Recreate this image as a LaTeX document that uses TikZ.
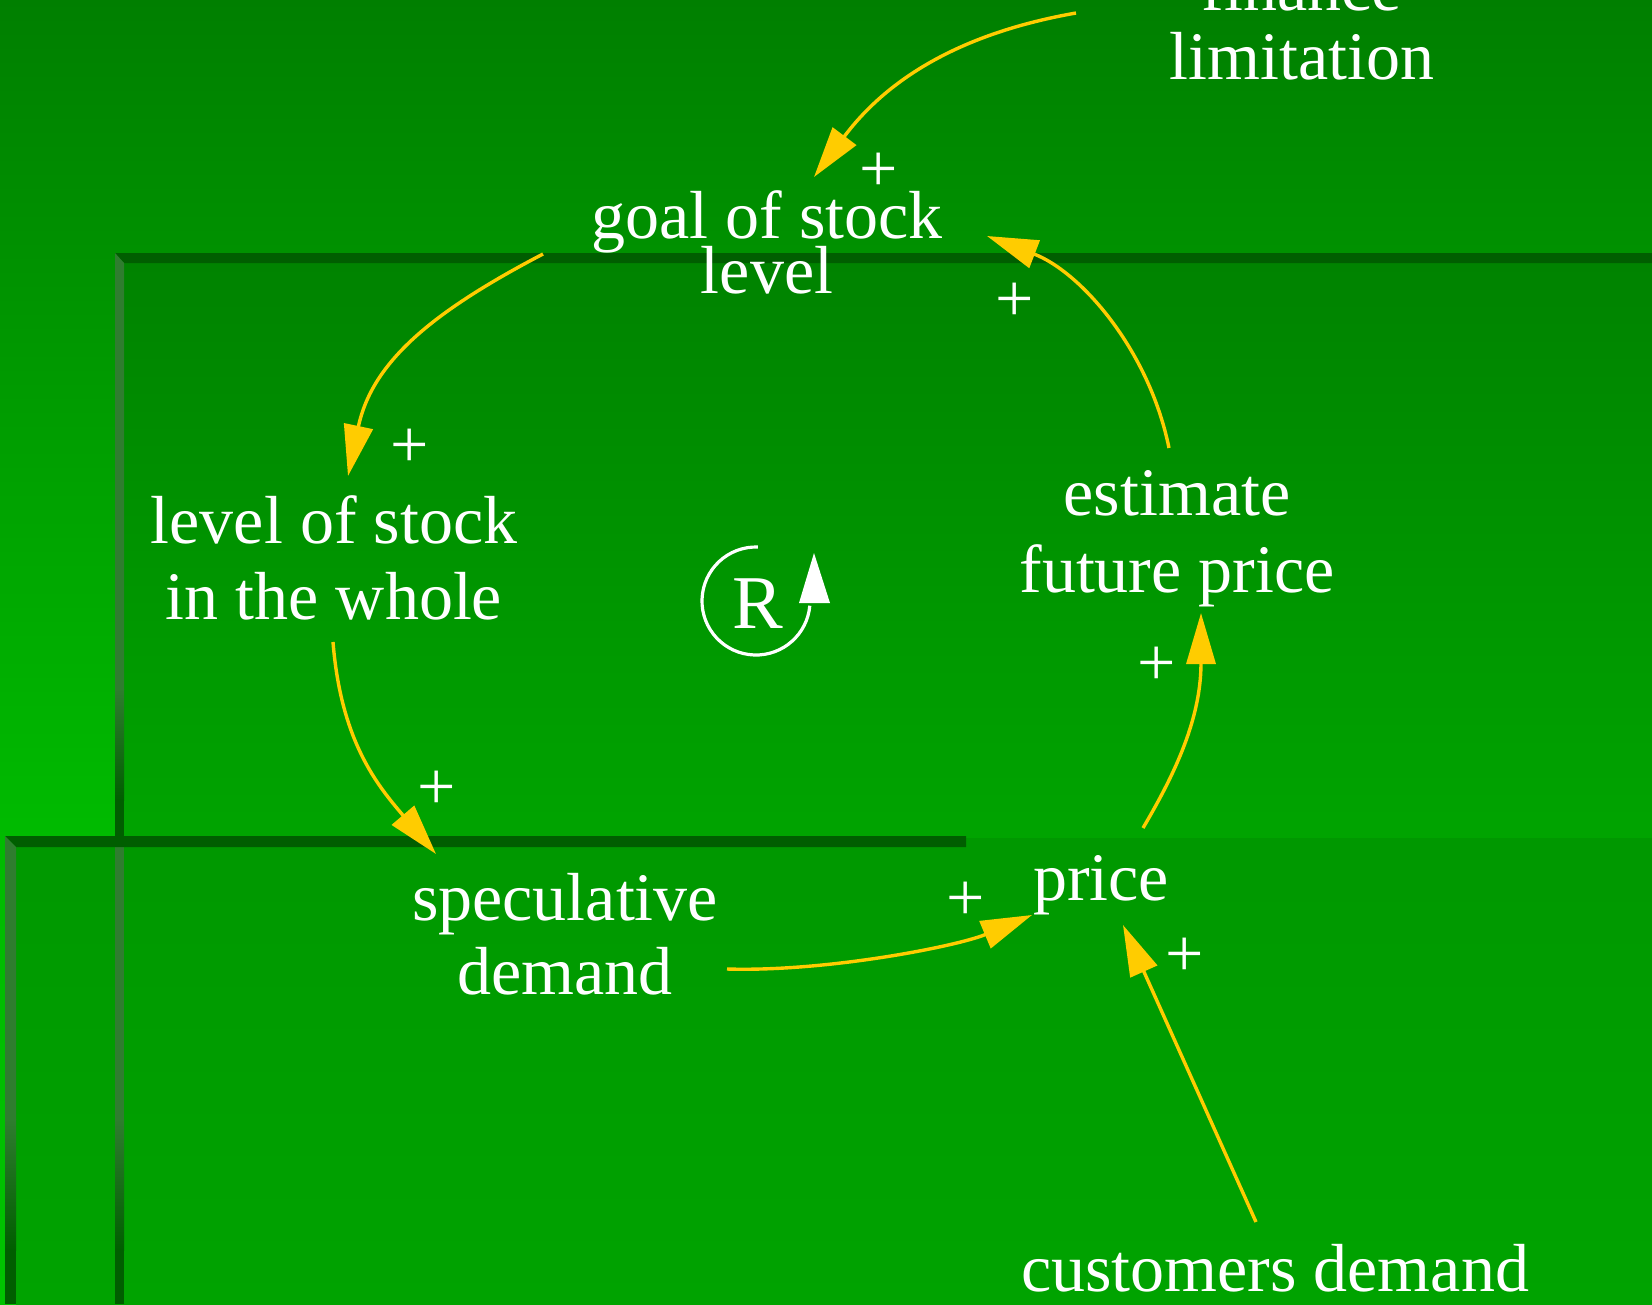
\documentclass[tikz,border=0pt]{standalone}
\usepackage{fontspec}
\setmainfont{Liberation Serif}
\usetikzlibrary{arrows.meta,calc}
\definecolor{bgtop}{HTML}{007F00}
\definecolor{bgmid}{HTML}{00BB00}
\definecolor{bgbot}{HTML}{00C300}
\definecolor{pnltop}{HTML}{008300}
\definecolor{pnlmid}{HTML}{00A400}
\definecolor{pnllowtop}{HTML}{009800}
\definecolor{pnllowbot}{HTML}{00A300}
\definecolor{edgegreen}{HTML}{005E00}
\definecolor{bevelgreen}{HTML}{2F7D2F}
\definecolor{arrowyellow}{HTML}{FFCC00}
\begin{document}
\lineskiplimit=-100pt
\begin{tikzpicture}[x=1pt,y=-1pt,
  lbl/.style={text=white, inner sep=0pt, align=center, anchor=base},
  plus/.style={text=white, inner sep=0pt, font=\fontsize{68}{76}\selectfont},
  conn/.style={draw=arrowyellow, line width=3.4pt, -{Triangle[length=51pt,width=29pt]}},
  bevelfade/.style={top color=bevelgreen, bottom color=edgegreen}]
\useasboundingbox (0,0) rectangle (1652,1304);
% background
\shade[top color=bgtop, bottom color=bgmid] (0,0) rectangle (1652,838);
\shade[top color=bgmid, bottom color=bgbot] (0,838) rectangle (1652,1304);
% panel 1
\shade[top color=pnltop, bottom color=pnlmid] (124,263) rectangle (1652,838);
\shade[top color=pnllowtop, bottom color=pnllowbot] (16,838) rectangle (1652,1304);
\fill[edgegreen] (115,253) -- (1652,253) -- (1652,263) -- (124,263) -- cycle;
\fill[bevelgreen] (115,253) -- (124,263) -- (124,690) -- (115,690) -- cycle;
\shade[bevelfade] (115,689) rectangle (124,800);
\fill[edgegreen] (115,799) rectangle (124,838);
\fill[bevelgreen] (115,847) rectangle (124,1120);
\shade[bevelfade] (115,1119) rectangle (124,1250);
\fill[edgegreen] (115,1249) rectangle (124,1304);
% panel 2
\fill[edgegreen] (5,836) -- (966,836) -- (966,847) -- (16,847) -- cycle;
\fill[bevelgreen] (5,836) -- (16,847) -- (16,1120) -- (5,1120) -- cycle;
\shade[bevelfade] (5,1119) rectangle (16,1250);
\fill[edgegreen] (5,1249) rectangle (16,1304);

% labels (base anchor = baseline of the last line)
\node[lbl, font=\fontsize{68}{69}\selectfont] (fin) at (1302,79) {finance\\limitation};
\node[lbl, font=\fontsize{68}{55}\selectfont] (goal) at (767,293) {goal of stock\\level};
\node[lbl, font=\fontsize{68}{76}\selectfont] (lvl) at (334,619) {level of stock\\in the whole};
\node[lbl, font=\fontsize{68}{77}\selectfont] (est) at (1177,592) {estimate\\future price};
\node[lbl, font=\fontsize{68}{74}\selectfont] (spec) at (565,994) {speculative\\demand};
\node[lbl, font=\fontsize{68}{76}\selectfont] (price) at (1101,900) {price};
\node[lbl, font=\fontsize{68}{76}\selectfont] (cust) at (1275,1291) {customers demand};

% connectors
\draw[conn] ($(fin.base)+(-226,-66)$) .. controls (962,33) and (888,78) .. ($(goal.base)+(47,-116)$);
\draw[conn] ($(goal.base)+(-224,-39)$) .. controls (432,312) and (372,362) .. ($(lvl.base)+(14,-143)$);
\draw[conn] ($(lvl.base)+(-1,23)$) .. controls (341,742) and (378,786) .. ($(spec.base)+(-129,-140)$);
\draw[conn] ($(spec.base)+(162,-25)$) .. controls (827,972) and (958,946) .. ($(price.base)+(-69,15)$);
\draw[conn] ($(cust.base)+(-19,-69)$) -- ($(price.base)+(22,25)$);
\draw[conn] ($(price.base)+(42,-72)$) .. controls (1170,782) and (1201,723) .. ($(est.base)+(24,21)$);
\draw[conn] ($(est.base)+(-8,-144)$) .. controls (1149,350) and (1081,272) .. ($(goal.base)+(220,-57)$);

% polarity signs
\node[plus] (p1) at (879,172) {+};
\node[plus] (p2) at (1015,302) {+};
\node[plus] (p3) at (410,448) {+};
\node[plus] (p4) at (437,790) {+};
\node[plus] (p5) at (966,901) {+};
\node[plus] (p6) at (1185,957) {+};
\node[plus] (p7) at (1157,666) {+};

% loop symbol
\draw[white, line width=3.2pt] (756,601) ++(272:54) arc[start angle=272, end angle=5, radius=54];
\fill[white] (799,603) -- (830,603) -- (814,553) -- cycle;
\node[text=white, inner sep=0pt, anchor=base, font=\fontsize{76}{80}\selectfont] (loopR) at (758,628) {R};
\end{tikzpicture}
\end{document}
